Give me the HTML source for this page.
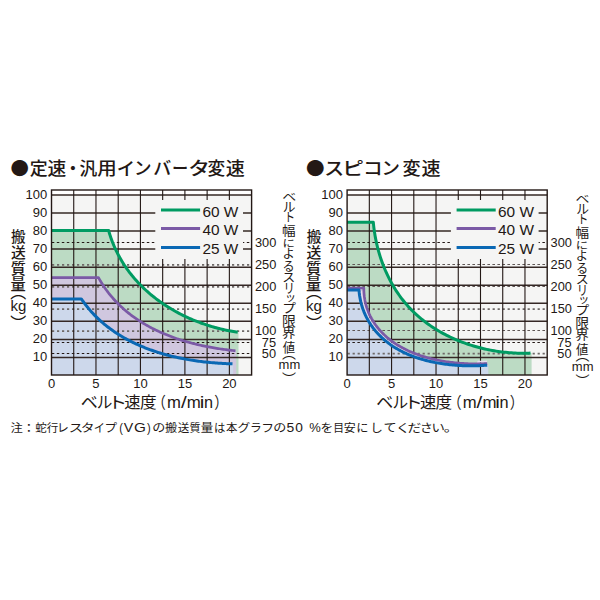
<!DOCTYPE html>
<html><head><meta charset="utf-8"><title>chart</title>
<style>
html,body{margin:0;padding:0;background:#fff;}
body{width:600px;height:600px;overflow:hidden;position:relative;}
svg{position:absolute;left:0;top:0;}
text{font-family:'Liberation Sans','Noto Sans CJK JP',sans-serif;fill:#231815;}
</style></head><body>
<svg width="600" height="600" viewBox="0 0 600 600">
<rect x="0" y="0" width="600" height="600" fill="#fff"/>
<text x="-9.00" y="0" font-size="18.0" font-weight="500" style="font-family:'Noto Sans CJK JP',sans-serif" transform="translate(19.80,175.4) scale(1.022,1)">●</text>
<text x="-8.88" y="0" font-size="18.0" font-weight="500" transform="translate(38.55,175.4) scale(0.997,1)">定</text>
<text x="-9.00" y="0" font-size="18.0" font-weight="500" transform="translate(56.75,175.4) scale(1.041,1)">速</text>
<text x="-9.00" y="0" font-size="18.0" font-weight="500" transform="translate(72.90,175.4) scale(0.988,1)">・</text>
<text x="-9.12" y="0" font-size="18.0" font-weight="500" transform="translate(88.55,175.4) scale(0.982,1)">汎</text>
<text x="-8.31" y="0" font-size="18.0" font-weight="500" transform="translate(106.35,175.4) scale(1.082,1)">用</text>
<text x="-8.56" y="0" font-size="18.0" font-weight="500" transform="translate(125.50,175.4) scale(1.016,1)">イ</text>
<text x="-9.56" y="0" font-size="18.0" font-weight="500" transform="translate(143.30,175.4) scale(0.974,1)">ン</text>
<text x="-9.19" y="0" font-size="18.0" font-weight="500" transform="translate(162.50,175.4) scale(1.002,1)">バ</text>
<text x="-9.00" y="0" font-size="18.0" font-weight="500" transform="translate(180.15,175.4) scale(0.903,1)">ー</text>
<text x="-8.69" y="0" font-size="18.0" font-weight="500" transform="translate(198.65,175.4) scale(1.203,1)">タ</text>
<text x="-9.06" y="0" font-size="18.0" font-weight="500" transform="translate(216.45,175.4) scale(0.980,1)">変</text>
<text x="-9.00" y="0" font-size="18.0" font-weight="500" transform="translate(235.22,175.4) scale(1.056,1)">速</text>
<text x="-9.00" y="0" font-size="18.0" font-weight="500" style="font-family:'Noto Sans CJK JP',sans-serif" transform="translate(315.38,175.4) scale(1.031,1)">●</text>
<text x="-9.00" y="0" font-size="18.0" font-weight="500" transform="translate(334.15,175.4) scale(1.105,1)">ス</text>
<text x="-10.06" y="0" font-size="18.0" font-weight="500" transform="translate(354.35,175.4) scale(1.204,1)">ピ</text>
<text x="-9.12" y="0" font-size="18.0" font-weight="500" transform="translate(373.00,175.4) scale(1.098,1)">コ</text>
<text x="-9.56" y="0" font-size="18.0" font-weight="500" transform="translate(391.35,175.4) scale(1.023,1)">ン</text>
<text x="-9.06" y="0" font-size="18.0" font-weight="500" transform="translate(411.65,175.4) scale(1.005,1)">変</text>
<text x="-9.00" y="0" font-size="18.0" font-weight="500" transform="translate(431.00,175.4) scale(1.059,1)">速</text>
<rect x="51.5" y="194.9" width="200.1" height="180.1" fill="#f5f5f4"/>
<polygon points="51.50,375.00 51.50,230.50 108.71,230.50 109.12,232.25 109.56,233.69 110.01,235.13 110.47,236.56 110.96,237.98 111.45,239.39 111.97,240.78 112.50,242.17 113.05,243.55 113.61,244.92 114.18,246.28 114.78,247.63 115.38,248.97 116.01,250.30 116.64,251.62 117.30,252.93 117.96,254.23 118.64,255.52 119.34,256.80 120.05,258.07 120.77,259.33 121.51,260.58 122.26,261.82 123.03,263.05 123.81,264.27 124.60,265.48 125.40,266.68 126.22,267.87 127.05,269.05 127.90,270.22 128.75,271.38 129.62,272.53 130.50,273.67 131.40,274.80 132.30,275.91 133.22,277.02 134.15,278.12 135.09,279.21 136.05,280.29 137.01,281.36 137.99,282.41 138.98,283.46 139.97,284.50 140.98,285.53 142.00,286.54 143.03,287.55 144.08,288.54 145.13,289.53 146.19,290.51 147.26,291.47 148.34,292.43 149.43,293.37 150.53,294.30 151.64,295.23 152.76,296.14 153.89,297.04 155.03,297.93 156.18,298.82 157.34,299.69 158.50,300.55 159.67,301.40 160.86,302.24 162.05,303.07 163.24,303.89 164.45,304.69 165.67,305.49 166.89,306.28 168.12,307.05 169.35,307.82 170.60,308.57 171.85,309.32 173.11,310.05 174.37,310.77 175.65,311.49 176.93,312.19 178.21,312.88 179.50,313.56 180.80,314.23 182.11,314.89 183.42,315.54 184.73,316.17 186.05,316.80 187.38,317.41 188.71,318.02 190.05,318.61 191.40,319.20 192.74,319.77 194.10,320.33 195.46,320.88 196.82,321.42 198.18,321.95 199.56,322.46 200.93,322.97 202.31,323.47 203.69,323.95 205.08,324.43 206.47,324.89 207.87,325.34 209.26,325.78 210.67,326.21 212.07,326.63 213.48,327.04 214.89,327.43 216.30,327.82 217.71,328.19 219.13,328.56 220.55,328.91 221.97,329.25 223.40,329.58 224.82,329.90 226.25,330.20 227.68,330.50 229.11,330.79 230.54,331.06 231.97,331.32 233.41,331.57 234.84,331.81 236.28,332.04 237.71,332.26 238.50,332.26 238.50,375.00" fill="#bcdbc4"/>
<polygon points="51.50,375.00 51.50,277.60 98.50,277.60 99.19,278.83 99.89,280.06 100.60,281.28 101.33,282.48 102.07,283.67 102.81,284.84 103.58,286.01 104.35,287.16 105.13,288.30 105.93,289.42 106.74,290.54 107.56,291.64 108.39,292.73 109.23,293.80 110.09,294.87 110.95,295.92 111.82,296.96 112.71,297.99 113.61,299.00 114.51,300.00 115.43,301.00 116.36,301.98 117.29,302.94 118.24,303.90 119.20,304.85 120.17,305.78 121.14,306.70 122.13,307.61 123.12,308.51 124.13,309.40 125.14,310.27 126.16,311.14 127.19,311.99 128.23,312.83 129.28,313.67 130.34,314.49 131.41,315.30 132.48,316.10 133.56,316.88 134.65,317.66 135.75,318.43 136.85,319.19 137.97,319.93 139.09,320.67 140.22,321.39 141.35,322.11 142.49,322.81 143.64,323.51 144.80,324.19 145.96,324.87 147.13,325.53 148.31,326.19 149.49,326.83 150.68,327.46 151.87,328.09 153.07,328.71 154.28,329.31 155.49,329.91 156.71,330.49 157.93,331.07 159.16,331.64 160.40,332.20 161.64,332.75 162.88,333.29 164.13,333.82 165.39,334.34 166.65,334.86 167.91,335.36 169.18,335.86 170.45,336.34 171.73,336.82 173.01,337.29 174.29,337.75 175.58,338.20 176.87,338.65 178.17,339.08 179.47,339.51 180.77,339.93 182.07,340.34 183.38,340.74 184.69,341.14 186.01,341.52 187.32,341.90 188.64,342.27 189.97,342.63 191.29,342.99 192.62,343.34 193.95,343.68 195.28,344.01 196.61,344.33 197.94,344.65 199.28,344.96 200.62,345.26 201.96,345.56 203.30,345.85 204.64,346.13 205.98,346.40 207.32,346.67 208.66,346.93 210.01,347.18 211.35,347.43 212.70,347.67 214.04,347.90 215.39,348.13 216.74,348.35 218.08,348.56 219.43,348.77 220.77,348.97 222.11,349.16 223.46,349.35 224.80,349.53 226.14,349.71 227.48,349.88 228.82,350.04 230.16,350.20 231.50,350.35 232.84,350.50 234.17,350.64 235.50,350.77 236.20,350.77 236.20,375.00" fill="#d0c7df"/>
<polygon points="51.50,375.00 51.50,298.90 81.30,298.90 82.13,300.02 82.97,301.22 83.82,302.41 84.69,303.59 85.57,304.75 86.46,305.90 87.36,307.04 88.28,308.16 89.21,309.26 90.15,310.36 91.10,311.44 92.06,312.51 93.03,313.56 94.02,314.60 95.02,315.63 96.02,316.64 97.04,317.64 98.07,318.63 99.11,319.61 100.16,320.57 101.22,321.52 102.29,322.46 103.37,323.38 104.46,324.29 105.56,325.19 106.66,326.08 107.78,326.95 108.91,327.81 110.05,328.66 111.19,329.50 112.35,330.33 113.51,331.14 114.68,331.94 115.86,332.73 117.05,333.51 118.25,334.27 119.45,335.03 120.67,335.77 121.89,336.50 123.12,337.22 124.35,337.93 125.59,338.63 126.84,339.31 128.10,339.99 129.37,340.65 130.64,341.30 131.91,341.94 133.20,342.57 134.49,343.19 135.79,343.80 137.09,344.40 138.40,344.99 139.71,345.56 141.03,346.13 142.36,346.69 143.69,347.23 145.03,347.77 146.37,348.29 147.72,348.81 149.07,349.31 150.42,349.81 151.79,350.29 153.15,350.77 154.52,351.23 155.90,351.69 157.27,352.13 158.66,352.57 160.04,353.00 161.43,353.41 162.82,353.82 164.22,354.22 165.62,354.61 167.02,354.99 168.43,355.36 169.84,355.72 171.25,356.08 172.66,356.42 174.08,356.76 175.49,357.08 176.91,357.40 178.34,357.71 179.76,358.01 181.19,358.31 182.61,358.59 184.04,358.87 185.47,359.13 186.90,359.39 188.34,359.64 189.77,359.89 191.20,360.12 192.64,360.35 194.07,360.57 195.51,360.78 196.94,360.99 198.38,361.18 199.81,361.37 201.25,361.55 202.69,361.73 204.12,361.90 205.55,362.06 206.99,362.21 208.42,362.35 209.85,362.49 211.28,362.62 212.71,362.75 214.13,362.86 215.56,362.98 216.98,363.08 218.41,363.18 219.83,363.27 221.24,363.35 222.66,363.43 224.07,363.50 225.48,363.57 226.89,363.63 228.29,363.68 229.70,363.73 231.09,363.77 232.49,363.80 233.20,363.80 233.20,375.00" fill="#cdd8eb"/>
<line x1="51.5" y1="242.5" x2="251.6" y2="242.5" stroke="#231815" stroke-width="1" stroke-dasharray="2.5 2.5" stroke-dashoffset="-0.3"/>
<line x1="51.5" y1="264.9" x2="251.6" y2="264.9" stroke="#6f6a68" stroke-width="1.8" stroke-dasharray="2.2 2.8" stroke-dashoffset="-0.5"/>
<line x1="51.5" y1="286.9" x2="251.6" y2="286.9" stroke="#6f6a68" stroke-width="1.8" stroke-dasharray="2.2 2.8" stroke-dashoffset="-0.5"/>
<line x1="51.5" y1="309.2" x2="251.6" y2="309.2" stroke="#6f6a68" stroke-width="1.8" stroke-dasharray="2.2 2.8" stroke-dashoffset="-0.5"/>
<line x1="51.5" y1="331.1" x2="251.6" y2="331.1" stroke="#6f6a68" stroke-width="1.8" stroke-dasharray="2.2 2.8" stroke-dashoffset="-0.5"/>
<line x1="51.5" y1="342.5" x2="251.6" y2="342.5" stroke="#231815" stroke-width="1" stroke-dasharray="2.5 2.5" stroke-dashoffset="-0.3"/>
<line x1="51.5" y1="353.5" x2="251.6" y2="353.5" stroke="#231815" stroke-width="1" stroke-dasharray="2.5 2.5" stroke-dashoffset="-0.3"/>
<line x1="51.5" y1="357.44" x2="251.6" y2="357.44" stroke="#352825" stroke-width="1.5"/>
<line x1="51.5" y1="339.38" x2="251.6" y2="339.38" stroke="#352825" stroke-width="1.5"/>
<line x1="51.5" y1="321.32" x2="251.6" y2="321.32" stroke="#352825" stroke-width="1.5"/>
<line x1="51.5" y1="303.26" x2="251.6" y2="303.26" stroke="#352825" stroke-width="1.5"/>
<line x1="51.5" y1="285.20" x2="251.6" y2="285.20" stroke="#352825" stroke-width="1.5"/>
<line x1="51.5" y1="267.14" x2="251.6" y2="267.14" stroke="#352825" stroke-width="1.5"/>
<line x1="51.5" y1="249.08" x2="251.6" y2="249.08" stroke="#352825" stroke-width="1.5"/>
<line x1="51.5" y1="231.02" x2="251.6" y2="231.02" stroke="#352825" stroke-width="1.5"/>
<line x1="51.5" y1="212.96" x2="251.6" y2="212.96" stroke="#352825" stroke-width="1.5"/>
<line x1="51.5" y1="194.90" x2="251.6" y2="194.90" stroke="#352825" stroke-width="1.5"/>
<line x1="73.73" y1="190.0" x2="73.73" y2="375.0" stroke="#231815" stroke-width="1.1"/>
<line x1="95.97" y1="190.0" x2="95.97" y2="375.0" stroke="#231815" stroke-width="1.1"/>
<line x1="118.20" y1="190.0" x2="118.20" y2="375.0" stroke="#231815" stroke-width="1.1"/>
<line x1="140.43" y1="190.0" x2="140.43" y2="375.0" stroke="#231815" stroke-width="1.1"/>
<line x1="162.67" y1="190.0" x2="162.67" y2="375.0" stroke="#231815" stroke-width="1.1"/>
<line x1="184.90" y1="190.0" x2="184.90" y2="375.0" stroke="#231815" stroke-width="1.1"/>
<line x1="207.13" y1="190.0" x2="207.13" y2="375.0" stroke="#231815" stroke-width="1.1"/>
<line x1="229.37" y1="190.0" x2="229.37" y2="375.0" stroke="#231815" stroke-width="1.1"/>
<rect x="155.3" y="200" width="87.7" height="59" fill="#f5f5f4"/>
<polyline points="51.50,230.50 108.71,230.50 109.12,232.25 109.56,233.69 110.01,235.13 110.47,236.56 110.96,237.98 111.45,239.39 111.97,240.78 112.50,242.17 113.05,243.55 113.61,244.92 114.18,246.28 114.78,247.63 115.38,248.97 116.01,250.30 116.64,251.62 117.30,252.93 117.96,254.23 118.64,255.52 119.34,256.80 120.05,258.07 120.77,259.33 121.51,260.58 122.26,261.82 123.03,263.05 123.81,264.27 124.60,265.48 125.40,266.68 126.22,267.87 127.05,269.05 127.90,270.22 128.75,271.38 129.62,272.53 130.50,273.67 131.40,274.80 132.30,275.91 133.22,277.02 134.15,278.12 135.09,279.21 136.05,280.29 137.01,281.36 137.99,282.41 138.98,283.46 139.97,284.50 140.98,285.53 142.00,286.54 143.03,287.55 144.08,288.54 145.13,289.53 146.19,290.51 147.26,291.47 148.34,292.43 149.43,293.37 150.53,294.30 151.64,295.23 152.76,296.14 153.89,297.04 155.03,297.93 156.18,298.82 157.34,299.69 158.50,300.55 159.67,301.40 160.86,302.24 162.05,303.07 163.24,303.89 164.45,304.69 165.67,305.49 166.89,306.28 168.12,307.05 169.35,307.82 170.60,308.57 171.85,309.32 173.11,310.05 174.37,310.77 175.65,311.49 176.93,312.19 178.21,312.88 179.50,313.56 180.80,314.23 182.11,314.89 183.42,315.54 184.73,316.17 186.05,316.80 187.38,317.41 188.71,318.02 190.05,318.61 191.40,319.20 192.74,319.77 194.10,320.33 195.46,320.88 196.82,321.42 198.18,321.95 199.56,322.46 200.93,322.97 202.31,323.47 203.69,323.95 205.08,324.43 206.47,324.89 207.87,325.34 209.26,325.78 210.67,326.21 212.07,326.63 213.48,327.04 214.89,327.43 216.30,327.82 217.71,328.19 219.13,328.56 220.55,328.91 221.97,329.25 223.40,329.58 224.82,329.90 226.25,330.20 227.68,330.50 229.11,330.79 230.54,331.06 231.97,331.32 233.41,331.57 234.84,331.81 236.28,332.04 237.71,332.26" fill="none" stroke="#009b62" stroke-width="3" stroke-linejoin="round"/>
<polyline points="51.50,277.60 98.50,277.60 99.19,278.83 99.89,280.06 100.60,281.28 101.33,282.48 102.07,283.67 102.81,284.84 103.58,286.01 104.35,287.16 105.13,288.30 105.93,289.42 106.74,290.54 107.56,291.64 108.39,292.73 109.23,293.80 110.09,294.87 110.95,295.92 111.82,296.96 112.71,297.99 113.61,299.00 114.51,300.00 115.43,301.00 116.36,301.98 117.29,302.94 118.24,303.90 119.20,304.85 120.17,305.78 121.14,306.70 122.13,307.61 123.12,308.51 124.13,309.40 125.14,310.27 126.16,311.14 127.19,311.99 128.23,312.83 129.28,313.67 130.34,314.49 131.41,315.30 132.48,316.10 133.56,316.88 134.65,317.66 135.75,318.43 136.85,319.19 137.97,319.93 139.09,320.67 140.22,321.39 141.35,322.11 142.49,322.81 143.64,323.51 144.80,324.19 145.96,324.87 147.13,325.53 148.31,326.19 149.49,326.83 150.68,327.46 151.87,328.09 153.07,328.71 154.28,329.31 155.49,329.91 156.71,330.49 157.93,331.07 159.16,331.64 160.40,332.20 161.64,332.75 162.88,333.29 164.13,333.82 165.39,334.34 166.65,334.86 167.91,335.36 169.18,335.86 170.45,336.34 171.73,336.82 173.01,337.29 174.29,337.75 175.58,338.20 176.87,338.65 178.17,339.08 179.47,339.51 180.77,339.93 182.07,340.34 183.38,340.74 184.69,341.14 186.01,341.52 187.32,341.90 188.64,342.27 189.97,342.63 191.29,342.99 192.62,343.34 193.95,343.68 195.28,344.01 196.61,344.33 197.94,344.65 199.28,344.96 200.62,345.26 201.96,345.56 203.30,345.85 204.64,346.13 205.98,346.40 207.32,346.67 208.66,346.93 210.01,347.18 211.35,347.43 212.70,347.67 214.04,347.90 215.39,348.13 216.74,348.35 218.08,348.56 219.43,348.77 220.77,348.97 222.11,349.16 223.46,349.35 224.80,349.53 226.14,349.71 227.48,349.88 228.82,350.04 230.16,350.20 231.50,350.35 232.84,350.50 234.17,350.64 235.50,350.77" fill="none" stroke="#7b5aa6" stroke-width="2.7" stroke-linejoin="round"/>
<polyline points="51.50,298.90 81.30,298.90 82.13,300.02 82.97,301.22 83.82,302.41 84.69,303.59 85.57,304.75 86.46,305.90 87.36,307.04 88.28,308.16 89.21,309.26 90.15,310.36 91.10,311.44 92.06,312.51 93.03,313.56 94.02,314.60 95.02,315.63 96.02,316.64 97.04,317.64 98.07,318.63 99.11,319.61 100.16,320.57 101.22,321.52 102.29,322.46 103.37,323.38 104.46,324.29 105.56,325.19 106.66,326.08 107.78,326.95 108.91,327.81 110.05,328.66 111.19,329.50 112.35,330.33 113.51,331.14 114.68,331.94 115.86,332.73 117.05,333.51 118.25,334.27 119.45,335.03 120.67,335.77 121.89,336.50 123.12,337.22 124.35,337.93 125.59,338.63 126.84,339.31 128.10,339.99 129.37,340.65 130.64,341.30 131.91,341.94 133.20,342.57 134.49,343.19 135.79,343.80 137.09,344.40 138.40,344.99 139.71,345.56 141.03,346.13 142.36,346.69 143.69,347.23 145.03,347.77 146.37,348.29 147.72,348.81 149.07,349.31 150.42,349.81 151.79,350.29 153.15,350.77 154.52,351.23 155.90,351.69 157.27,352.13 158.66,352.57 160.04,353.00 161.43,353.41 162.82,353.82 164.22,354.22 165.62,354.61 167.02,354.99 168.43,355.36 169.84,355.72 171.25,356.08 172.66,356.42 174.08,356.76 175.49,357.08 176.91,357.40 178.34,357.71 179.76,358.01 181.19,358.31 182.61,358.59 184.04,358.87 185.47,359.13 186.90,359.39 188.34,359.64 189.77,359.89 191.20,360.12 192.64,360.35 194.07,360.57 195.51,360.78 196.94,360.99 198.38,361.18 199.81,361.37 201.25,361.55 202.69,361.73 204.12,361.90 205.55,362.06 206.99,362.21 208.42,362.35 209.85,362.49 211.28,362.62 212.71,362.75 214.13,362.86 215.56,362.98 216.98,363.08 218.41,363.18 219.83,363.27 221.24,363.35 222.66,363.43 224.07,363.50 225.48,363.57 226.89,363.63 228.29,363.68 229.70,363.73 231.09,363.77 232.49,363.80" fill="none" stroke="#0a68b4" stroke-width="3" stroke-linejoin="round"/>
<rect x="51.5" y="190.0" width="200.1" height="185.0" fill="none" stroke="#231815" stroke-width="1.4"/>
<line x1="161" y1="209.9" x2="200.1" y2="209.9" stroke="#009b62" stroke-width="3"/>
<text x="202.4" y="217.0" font-size="15.4">60 W</text>
<line x1="161" y1="228.4" x2="200.1" y2="228.4" stroke="#7b5aa6" stroke-width="3"/>
<text x="202.4" y="235.2" font-size="15.4">40 W</text>
<line x1="161" y1="247.4" x2="200.1" y2="247.4" stroke="#0a68b4" stroke-width="3"/>
<text x="202.4" y="254.2" font-size="15.4">25 W</text>
<text x="47.3" y="361.34" font-size="13" text-anchor="end">10</text>
<text x="47.3" y="343.28" font-size="13" text-anchor="end">20</text>
<text x="47.3" y="325.22" font-size="13" text-anchor="end">30</text>
<text x="47.3" y="307.16" font-size="13" text-anchor="end">40</text>
<text x="47.3" y="289.10" font-size="13" text-anchor="end">50</text>
<text x="47.3" y="271.04" font-size="13" text-anchor="end">60</text>
<text x="47.3" y="252.98" font-size="13" text-anchor="end">70</text>
<text x="47.3" y="234.92" font-size="13" text-anchor="end">80</text>
<text x="47.3" y="216.86" font-size="13" text-anchor="end">90</text>
<text x="47.3" y="198.80" font-size="13" text-anchor="end">100</text>
<text x="51.50" y="388" font-size="13" text-anchor="middle">0</text>
<text x="95.97" y="388" font-size="13" text-anchor="middle">5</text>
<text x="140.43" y="388" font-size="13" text-anchor="middle">10</text>
<text x="184.90" y="388" font-size="13" text-anchor="middle">15</text>
<text x="229.37" y="388" font-size="13" text-anchor="middle">20</text>
<text x="255.0" y="246.80" font-size="12.8">300</text>
<text x="255.0" y="268.90" font-size="12.8">250</text>
<text x="255.0" y="290.90" font-size="12.8">200</text>
<text x="255.0" y="313.20" font-size="12.8">150</text>
<text x="255.0" y="335.10" font-size="12.8">100</text>
<text x="276.0" y="346.70" font-size="12.8" text-anchor="end">75</text>
<text x="276.0" y="357.70" font-size="12.8" text-anchor="end">50</text>
<text x="-7.94" y="0" font-size="16" transform="translate(89.20,407.6) scale(1.062,1)">ベ</text>
<text x="-8.19" y="0" font-size="16" transform="translate(104.80,407.6) scale(0.977,1)">ル</text>
<text x="-9.38" y="0" font-size="16" transform="translate(119.20,407.6) scale(1.212,1)">ト</text>
<text x="-8.00" y="0" font-size="16" transform="translate(132.50,407.6) scale(1.017,1)">速</text>
<text x="-7.94" y="0" font-size="16" transform="translate(148.25,407.6) scale(1.042,1)">度</text>
<text x="-13.19" y="0" font-size="16" style="font-family:'Noto Sans CJK JP',sans-serif" transform="translate(163.50,407.6) scale(0.850,1)">（</text>
<text x="-6.69" y="0" font-size="16" transform="translate(174.00,407.6) scale(1.043,1)">m</text>
<text x="-2.25" y="0" font-size="16" transform="translate(183.90,407.6) scale(1.289,1)">/</text>
<text x="-6.69" y="0" font-size="16" transform="translate(193.85,407.6) scale(1.052,1)">m</text>
<text x="-1.75" y="0" font-size="16" transform="translate(202.00,407.6) scale(1.300,1)">i</text>
<text x="-4.44" y="0" font-size="16" transform="translate(208.50,407.6) scale(1.018,1)">n</text>
<text x="-2.81" y="0" font-size="16" style="font-family:'Noto Sans CJK JP',sans-serif" transform="translate(216.55,407.6) scale(0.850,1)">）</text>
<text x="-7.50" y="5.75" font-size="15" font-weight="500" transform="translate(18.35,236.25) scale(0.975,0.964)">搬</text>
<text x="-7.50" y="5.81" font-size="15" font-weight="500" transform="translate(18.30,252.00) scale(0.986,0.966)">送</text>
<text x="-7.44" y="5.69" font-size="15" font-weight="500" transform="translate(18.15,267.85) scale(1.006,1.012)">質</text>
<text x="-7.50" y="5.69" font-size="15" font-weight="500" transform="translate(18.00,283.85) scale(1.018,1.044)">量</text>
<text x="10.30" y="297.84" font-size="16">︵</text>
<text x="10.30" y="329.01" font-size="16">︶</text>
<text x="18.3" y="311" font-size="15" text-anchor="middle">kg</text>
<text x="-6.44" y="5.00" font-size="13" transform="translate(289.15,196.50) scale(1.081,0.822)">ベ</text>
<text x="-6.62" y="4.81" font-size="13" transform="translate(289.35,206.70) scale(0.983,0.988)">ル</text>
<text x="-7.62" y="4.88" font-size="13" transform="translate(290.50,217.70) scale(0.830,0.952)">ト</text>
<text x="-6.62" y="4.94" font-size="13" transform="translate(289.00,230.00) scale(1.043,0.990)">幅</text>
<text x="-6.69" y="4.75" font-size="13" transform="translate(288.85,242.65) scale(0.958,0.829)">に</text>
<text x="-6.38" y="4.88" font-size="13" transform="translate(288.50,253.85) scale(0.947,0.936)">よ</text>
<text x="-6.31" y="4.69" font-size="13" transform="translate(288.50,266.15) scale(0.935,0.935)">る</text>
<text x="-6.50" y="4.44" font-size="13" transform="translate(288.85,277.50) scale(1.005,0.935)">ス</text>
<text x="-6.50" y="4.69" font-size="13" transform="translate(289.15,288.35) scale(0.869,1.031)">リ</text>
<text x="-6.69" y="3.25" font-size="13" transform="translate(290.65,298.65) scale(0.846,0.859)">ッ</text>
<text x="-7.19" y="5.25" font-size="13" transform="translate(289.85,308.35) scale(1.052,0.951)">プ</text>
<text x="-6.75" y="4.75" font-size="13" transform="translate(289.15,321.00) scale(1.070,1.043)">限</text>
<text x="-6.56" y="4.75" font-size="13" transform="translate(288.85,333.80) scale(1.036,0.936)">界</text>
<text x="-6.38" y="5.06" font-size="13" transform="translate(288.85,346.60) scale(0.955,0.973)">値</text>
<text x="282.10" y="358.31" font-size="14">︵</text>
<text x="282.10" y="384.19" font-size="14">︶</text>
<text x="289.40000000000003" y="369.00" font-size="13" text-anchor="middle">mm</text>
<rect x="347.1" y="194.9" width="200.10000000000002" height="180.1" fill="#f5f5f4"/>
<polygon points="347.10,375.00 347.10,222.30 373.31,222.30 373.50,224.22 373.70,226.14 373.93,228.07 374.19,229.99 374.46,231.90 374.76,233.81 375.08,235.72 375.42,237.63 375.79,239.53 376.18,241.42 376.59,243.31 377.03,245.19 377.48,247.07 377.96,248.94 378.47,250.80 378.99,252.66 379.54,254.51 380.11,256.35 380.70,258.18 381.32,260.00 381.95,261.81 382.62,263.62 383.30,265.41 384.00,267.19 384.73,268.96 385.48,270.72 386.25,272.47 387.05,274.21 387.87,275.93 388.71,277.64 389.57,279.34 390.46,281.02 391.36,282.69 392.29,284.35 393.25,285.99 394.22,287.62 395.22,289.23 396.24,290.82 397.28,292.40 398.34,293.96 399.43,295.50 400.54,297.03 401.67,298.54 402.82,300.03 404.00,301.50 405.20,302.95 406.42,304.39 407.66,305.80 408.92,307.19 410.21,308.56 411.52,309.92 412.85,311.25 414.20,312.56 415.57,313.85 416.96,315.12 418.37,316.37 419.80,317.60 421.25,318.81 422.71,319.99 424.20,321.16 425.70,322.31 427.23,323.43 428.76,324.54 430.32,325.62 431.89,326.69 433.48,327.73 435.08,328.75 436.70,329.75 438.33,330.74 439.98,331.70 441.64,332.64 443.32,333.56 445.01,334.45 446.71,335.33 448.42,336.19 450.15,337.02 451.89,337.84 453.63,338.63 455.40,339.41 457.17,340.16 458.95,340.89 460.74,341.60 462.54,342.29 464.35,342.96 466.17,343.61 468.00,344.23 469.83,344.84 471.67,345.42 473.52,345.99 475.38,346.53 477.24,347.05 479.11,347.55 480.99,348.03 482.87,348.49 484.75,348.93 486.64,349.35 488.54,349.74 490.44,350.12 492.34,350.47 494.24,350.80 496.15,351.12 498.06,351.41 499.97,351.67 501.88,351.92 503.80,352.15 505.71,352.35 507.63,352.54 509.54,352.70 511.46,352.84 513.37,352.96 515.29,353.06 517.20,353.14 519.11,353.20 521.02,353.23 522.92,353.24 524.82,353.24 526.72,353.21 528.62,353.16 530.51,353.08 531.60,353.08 531.60,375.00" fill="#bcdbc4"/>
<polygon points="347.10,375.00 347.10,288.00 363.80,288.00 363.82,289.49 363.86,290.97 363.94,292.43 364.06,293.88 364.20,295.32 364.37,296.74 364.58,298.15 364.81,299.54 365.07,300.92 365.36,302.28 365.68,303.63 366.03,304.96 366.41,306.27 366.81,307.58 367.24,308.86 367.70,310.13 368.18,311.39 368.69,312.63 369.22,313.86 369.78,315.07 370.36,316.26 370.97,317.44 371.60,318.61 372.26,319.76 372.93,320.89 373.63,322.01 374.35,323.11 375.10,324.20 375.86,325.27 376.65,326.33 377.46,327.37 378.28,328.39 379.13,329.40 379.99,330.39 380.88,331.37 381.78,332.33 382.70,333.27 383.64,334.20 384.59,335.11 385.57,336.01 386.56,336.89 387.56,337.76 388.58,338.60 389.62,339.44 390.67,340.25 391.73,341.05 392.81,341.83 393.90,342.60 395.01,343.35 396.13,344.09 397.26,344.81 398.41,345.51 399.57,346.20 400.73,346.87 401.91,347.53 403.11,348.17 404.31,348.80 405.52,349.41 406.75,350.01 407.98,350.60 409.22,351.17 410.48,351.72 411.74,352.26 413.01,352.79 414.29,353.30 415.57,353.80 416.87,354.28 418.17,354.75 419.48,355.21 420.80,355.66 422.12,356.09 423.45,356.50 424.79,356.91 426.13,357.30 427.47,357.68 428.82,358.05 430.18,358.40 431.54,358.74 432.90,359.07 434.27,359.39 435.64,359.69 437.02,359.99 438.40,360.27 439.78,360.54 441.16,360.80 442.54,361.04 443.93,361.28 445.31,361.50 446.70,361.72 448.09,361.92 449.48,362.11 450.86,362.29 452.25,362.46 453.64,362.62 455.03,362.77 456.41,362.91 457.79,363.04 459.18,363.16 460.56,363.27 461.93,363.37 463.31,363.46 464.68,363.54 466.04,363.61 467.41,363.67 468.77,363.73 470.12,363.77 471.47,363.81 472.82,363.83 474.16,363.85 475.49,363.86 476.82,363.86 478.14,363.86 479.45,363.84 480.76,363.82 482.06,363.79 483.36,363.75 484.64,363.70 485.92,363.65 487.19,363.59 488.20,363.59 488.20,375.00" fill="#d0c7df"/>
<polygon points="347.10,375.00 347.10,290.00 359.00,290.00 359.12,291.49 359.27,292.99 359.45,294.46 359.65,295.93 359.89,297.38 360.15,298.81 360.44,300.23 360.75,301.64 361.10,303.03 361.46,304.41 361.86,305.78 362.28,307.13 362.72,308.46 363.19,309.78 363.69,311.09 364.20,312.38 364.75,313.65 365.31,314.91 365.90,316.16 366.51,317.39 367.15,318.60 367.81,319.80 368.48,320.99 369.19,322.16 369.91,323.31 370.65,324.45 371.41,325.57 372.20,326.68 373.00,327.77 373.82,328.84 374.67,329.90 375.53,330.95 376.41,331.97 377.31,332.99 378.22,333.98 379.16,334.96 380.11,335.92 381.08,336.87 382.06,337.80 383.07,338.71 384.08,339.61 385.12,340.49 386.16,341.35 387.23,342.20 388.31,343.03 389.40,343.84 390.51,344.64 391.63,345.41 392.76,346.18 393.91,346.92 395.07,347.65 396.24,348.36 397.42,349.05 398.62,349.73 399.83,350.39 401.05,351.04 402.28,351.67 403.52,352.28 404.77,352.88 406.03,353.46 407.30,354.03 408.58,354.58 409.87,355.12 411.17,355.64 412.47,356.15 413.79,356.64 415.11,357.12 416.44,357.58 417.78,358.03 419.12,358.47 420.47,358.89 421.83,359.29 423.20,359.68 424.56,360.06 425.94,360.43 427.32,360.78 428.70,361.12 430.09,361.45 431.49,361.76 432.88,362.06 434.29,362.35 435.69,362.62 437.10,362.88 438.51,363.13 439.92,363.37 441.33,363.59 442.75,363.81 444.17,364.01 445.59,364.20 447.01,364.38 448.43,364.55 449.85,364.70 451.27,364.85 452.69,364.98 454.11,365.11 455.53,365.22 456.95,365.32 458.36,365.41 459.78,365.49 461.19,365.57 462.60,365.63 464.00,365.68 465.41,365.72 466.81,365.75 468.20,365.78 469.60,365.79 470.98,365.79 472.37,365.79 473.75,365.78 475.12,365.75 476.49,365.72 477.85,365.68 479.20,365.64 480.55,365.58 481.90,365.52 483.23,365.44 484.56,365.36 485.88,365.28 487.19,365.18 488.20,365.18 488.20,375.00" fill="#cdd8eb"/>
<line x1="347.1" y1="242.5" x2="547.2" y2="242.5" stroke="#231815" stroke-width="1" stroke-dasharray="2.5 2.5" stroke-dashoffset="-0.3"/>
<line x1="347.1" y1="264.5" x2="547.2" y2="264.5" stroke="#5f5755" stroke-width="1.2" stroke-dasharray="2.6 2.4" stroke-dashoffset="-0.3"/>
<line x1="347.1" y1="286.5" x2="547.2" y2="286.5" stroke="#5f5755" stroke-width="1.2" stroke-dasharray="2.6 2.4" stroke-dashoffset="-0.3"/>
<line x1="347.1" y1="309.2" x2="547.2" y2="309.2" stroke="#6f6a68" stroke-width="1.8" stroke-dasharray="2.2 2.8" stroke-dashoffset="-0.5"/>
<line x1="347.1" y1="330.5" x2="547.2" y2="330.5" stroke="#5f5755" stroke-width="1.2" stroke-dasharray="2.6 2.4" stroke-dashoffset="-0.3"/>
<line x1="347.1" y1="342.5" x2="547.2" y2="342.5" stroke="#231815" stroke-width="1" stroke-dasharray="2.5 2.5" stroke-dashoffset="-0.3"/>
<line x1="347.1" y1="353.7" x2="547.2" y2="353.7" stroke="#6f6a68" stroke-width="1.8" stroke-dasharray="2.2 2.8" stroke-dashoffset="-0.5"/>
<line x1="347.1" y1="357.44" x2="547.2" y2="357.44" stroke="#352825" stroke-width="1.5"/>
<line x1="347.1" y1="339.38" x2="547.2" y2="339.38" stroke="#352825" stroke-width="1.5"/>
<line x1="347.1" y1="321.32" x2="547.2" y2="321.32" stroke="#352825" stroke-width="1.5"/>
<line x1="347.1" y1="303.26" x2="547.2" y2="303.26" stroke="#352825" stroke-width="1.5"/>
<line x1="347.1" y1="285.20" x2="547.2" y2="285.20" stroke="#352825" stroke-width="1.5"/>
<line x1="347.1" y1="267.14" x2="547.2" y2="267.14" stroke="#352825" stroke-width="1.5"/>
<line x1="347.1" y1="249.08" x2="547.2" y2="249.08" stroke="#352825" stroke-width="1.5"/>
<line x1="347.1" y1="231.02" x2="547.2" y2="231.02" stroke="#352825" stroke-width="1.5"/>
<line x1="347.1" y1="212.96" x2="547.2" y2="212.96" stroke="#352825" stroke-width="1.5"/>
<line x1="347.1" y1="194.90" x2="547.2" y2="194.90" stroke="#352825" stroke-width="1.5"/>
<line x1="369.33" y1="190.0" x2="369.33" y2="375.0" stroke="#231815" stroke-width="1.1"/>
<line x1="391.57" y1="190.0" x2="391.57" y2="375.0" stroke="#231815" stroke-width="1.1"/>
<line x1="413.80" y1="190.0" x2="413.80" y2="375.0" stroke="#231815" stroke-width="1.1"/>
<line x1="436.03" y1="190.0" x2="436.03" y2="375.0" stroke="#231815" stroke-width="1.1"/>
<line x1="458.27" y1="190.0" x2="458.27" y2="375.0" stroke="#231815" stroke-width="1.1"/>
<line x1="480.50" y1="190.0" x2="480.50" y2="375.0" stroke="#231815" stroke-width="1.1"/>
<line x1="502.73" y1="190.0" x2="502.73" y2="375.0" stroke="#231815" stroke-width="1.1"/>
<line x1="524.97" y1="190.0" x2="524.97" y2="375.0" stroke="#231815" stroke-width="1.1"/>
<rect x="450.90000000000003" y="200" width="87.7" height="59" fill="#f5f5f4"/>
<polyline points="361.66,291.06 361.75,292.58 361.87,294.08 362.01,295.56 362.19,297.03 362.41,298.49 362.64,299.92 362.91,301.35 363.21,302.76 363.55,304.16 363.91,305.55 364.30,306.90 364.71,308.25 365.16,309.58 365.64,310.90 366.13,312.20 366.66,313.48 367.21,314.76 367.79,316.01 368.39,317.25 369.02,318.47 369.68,319.68 370.36,320.87 371.05,322.03 371.78,323.20 372.52,324.34 373.30,325.46 374.08,326.56 374.90,327.66 375.73,328.74 376.58,329.79 377.46,330.83 378.35,331.85 379.26,332.86 380.19,333.85 381.14,334.82 382.11,335.78 383.09,336.71 384.10,337.64 385.11,338.54 386.14,339.44 387.19,340.30 388.26,341.17 389.34,342.00 390.42,342.82 391.53,343.62 392.65,344.41 393.79,345.18 394.93,345.94 396.10,346.68 397.28,347.40 398.46,348.10 399.64,348.78 400.86,349.46 402.08,350.11 403.30,350.76 404.54,351.38 405.79,351.99 407.04,352.59 408.32,353.18 409.61,353.74 410.88,354.29 412.18,354.83 413.48,355.35 414.79,355.86 416.11,356.35 417.43,356.82 418.76,357.29 420.10,357.75 421.46,358.19 422.80,358.60 424.16,359.02 425.52,359.41 426.88,359.80 428.26,360.18 429.64,360.53 431.01,360.88 432.39,361.21 433.78,361.54 435.17,361.84 436.57,362.14 437.97,362.43 439.37,362.70 440.77,362.96 442.16,363.21 443.57,363.45 444.96,363.67 446.37,363.90 447.78,364.10 449.19,364.29 450.58,364.47 451.99,364.64 453.40,364.81 454.80,364.96 456.20,365.10 457.59,365.23 459.00,365.35 460.39,365.46 461.78,365.56 463.17,365.66 464.56,365.74 465.94,365.81 467.31,365.87 468.69,365.93 470.05,365.97 471.42,366.01 472.79,366.03 474.14,366.05 475.48,366.06 476.82,366.06 478.12,361.66 479.42,361.64 480.72,361.62 482.00,361.59 483.28,361.55 484.55,361.50 485.83,361.45 487.09,361.39" fill="none" stroke="#e6dbee" stroke-width="1.6" stroke-linejoin="round"/>
<polyline points="347.10,222.30 373.31,222.30 373.50,224.22 373.70,226.14 373.93,228.07 374.19,229.99 374.46,231.90 374.76,233.81 375.08,235.72 375.42,237.63 375.79,239.53 376.18,241.42 376.59,243.31 377.03,245.19 377.48,247.07 377.96,248.94 378.47,250.80 378.99,252.66 379.54,254.51 380.11,256.35 380.70,258.18 381.32,260.00 381.95,261.81 382.62,263.62 383.30,265.41 384.00,267.19 384.73,268.96 385.48,270.72 386.25,272.47 387.05,274.21 387.87,275.93 388.71,277.64 389.57,279.34 390.46,281.02 391.36,282.69 392.29,284.35 393.25,285.99 394.22,287.62 395.22,289.23 396.24,290.82 397.28,292.40 398.34,293.96 399.43,295.50 400.54,297.03 401.67,298.54 402.82,300.03 404.00,301.50 405.20,302.95 406.42,304.39 407.66,305.80 408.92,307.19 410.21,308.56 411.52,309.92 412.85,311.25 414.20,312.56 415.57,313.85 416.96,315.12 418.37,316.37 419.80,317.60 421.25,318.81 422.71,319.99 424.20,321.16 425.70,322.31 427.23,323.43 428.76,324.54 430.32,325.62 431.89,326.69 433.48,327.73 435.08,328.75 436.70,329.75 438.33,330.74 439.98,331.70 441.64,332.64 443.32,333.56 445.01,334.45 446.71,335.33 448.42,336.19 450.15,337.02 451.89,337.84 453.63,338.63 455.40,339.41 457.17,340.16 458.95,340.89 460.74,341.60 462.54,342.29 464.35,342.96 466.17,343.61 468.00,344.23 469.83,344.84 471.67,345.42 473.52,345.99 475.38,346.53 477.24,347.05 479.11,347.55 480.99,348.03 482.87,348.49 484.75,348.93 486.64,349.35 488.54,349.74 490.44,350.12 492.34,350.47 494.24,350.80 496.15,351.12 498.06,351.41 499.97,351.67 501.88,351.92 503.80,352.15 505.71,352.35 507.63,352.54 509.54,352.70 511.46,352.84 513.37,352.96 515.29,353.06 517.20,353.14 519.11,353.20 521.02,353.23 522.92,353.24 524.82,353.24 526.72,353.21 528.62,353.16 530.51,353.08" fill="none" stroke="#009b62" stroke-width="3" stroke-linejoin="round"/>
<polyline points="347.10,288.00 363.80,288.00 363.82,289.49 363.86,290.97 363.94,292.43 364.06,293.88 364.20,295.32 364.37,296.74 364.58,298.15 364.81,299.54 365.07,300.92 365.36,302.28 365.68,303.63 366.03,304.96 366.41,306.27 366.81,307.58 367.24,308.86 367.70,310.13 368.18,311.39 368.69,312.63 369.22,313.86 369.78,315.07 370.36,316.26 370.97,317.44 371.60,318.61 372.26,319.76 372.93,320.89 373.63,322.01 374.35,323.11 375.10,324.20 375.86,325.27 376.65,326.33 377.46,327.37 378.28,328.39 379.13,329.40 379.99,330.39 380.88,331.37 381.78,332.33 382.70,333.27 383.64,334.20 384.59,335.11 385.57,336.01 386.56,336.89 387.56,337.76 388.58,338.60 389.62,339.44 390.67,340.25 391.73,341.05 392.81,341.83 393.90,342.60 395.01,343.35 396.13,344.09 397.26,344.81 398.41,345.51 399.57,346.20 400.73,346.87 401.91,347.53 403.11,348.17 404.31,348.80 405.52,349.41 406.75,350.01 407.98,350.60 409.22,351.17 410.48,351.72 411.74,352.26 413.01,352.79 414.29,353.30 415.57,353.80 416.87,354.28 418.17,354.75 419.48,355.21 420.80,355.66 422.12,356.09 423.45,356.50 424.79,356.91 426.13,357.30 427.47,357.68 428.82,358.05 430.18,358.40 431.54,358.74 432.90,359.07 434.27,359.39 435.64,359.69 437.02,359.99 438.40,360.27 439.78,360.54 441.16,360.80 442.54,361.04 443.93,361.28 445.31,361.50 446.70,361.72 448.09,361.92 449.48,362.11 450.86,362.29 452.25,362.46 453.64,362.62 455.03,362.77 456.41,362.91 457.79,363.04 459.18,363.16 460.56,363.27 461.93,363.37 463.31,363.46 464.68,363.54 466.04,363.61 467.41,363.67 468.77,363.73 470.12,363.77 471.47,363.81 472.82,363.83 474.16,363.85 475.49,363.86 476.82,363.86 478.14,363.86 479.45,363.84 480.76,363.82 482.06,363.79 483.36,363.75 484.64,363.70 485.92,363.65 487.19,363.59" fill="none" stroke="#7b5aa6" stroke-width="2.7" stroke-linejoin="round"/>
<polyline points="347.10,290.00 359.00,290.00 359.12,291.49 359.27,292.99 359.45,294.46 359.65,295.93 359.89,297.38 360.15,298.81 360.44,300.23 360.75,301.64 361.10,303.03 361.46,304.41 361.86,305.78 362.28,307.13 362.72,308.46 363.19,309.78 363.69,311.09 364.20,312.38 364.75,313.65 365.31,314.91 365.90,316.16 366.51,317.39 367.15,318.60 367.81,319.80 368.48,320.99 369.19,322.16 369.91,323.31 370.65,324.45 371.41,325.57 372.20,326.68 373.00,327.77 373.82,328.84 374.67,329.90 375.53,330.95 376.41,331.97 377.31,332.99 378.22,333.98 379.16,334.96 380.11,335.92 381.08,336.87 382.06,337.80 383.07,338.71 384.08,339.61 385.12,340.49 386.16,341.35 387.23,342.20 388.31,343.03 389.40,343.84 390.51,344.64 391.63,345.41 392.76,346.18 393.91,346.92 395.07,347.65 396.24,348.36 397.42,349.05 398.62,349.73 399.83,350.39 401.05,351.04 402.28,351.67 403.52,352.28 404.77,352.88 406.03,353.46 407.30,354.03 408.58,354.58 409.87,355.12 411.17,355.64 412.47,356.15 413.79,356.64 415.11,357.12 416.44,357.58 417.78,358.03 419.12,358.47 420.47,358.89 421.83,359.29 423.20,359.68 424.56,360.06 425.94,360.43 427.32,360.78 428.70,361.12 430.09,361.45 431.49,361.76 432.88,362.06 434.29,362.35 435.69,362.62 437.10,362.88 438.51,363.13 439.92,363.37 441.33,363.59 442.75,363.81 444.17,364.01 445.59,364.20 447.01,364.38 448.43,364.55 449.85,364.70 451.27,364.85 452.69,364.98 454.11,365.11 455.53,365.22 456.95,365.32 458.36,365.41 459.78,365.49 461.19,365.57 462.60,365.63 464.00,365.68 465.41,365.72 466.81,365.75 468.20,365.78 469.60,365.79 470.98,365.79 472.37,365.79 473.75,365.78 475.12,365.75 476.49,365.72 477.85,365.68 479.20,365.64 480.55,365.58 481.90,365.52 483.23,365.44 484.56,365.36 485.88,365.28 487.19,365.18" fill="none" stroke="#0a68b4" stroke-width="3" stroke-linejoin="round"/>
<rect x="347.1" y="190.0" width="200.10000000000002" height="185.0" fill="none" stroke="#231815" stroke-width="1.4"/>
<line x1="456.6" y1="209.9" x2="495.70000000000005" y2="209.9" stroke="#009b62" stroke-width="3"/>
<text x="498.0" y="217.0" font-size="15.4">60 W</text>
<line x1="456.6" y1="228.4" x2="495.70000000000005" y2="228.4" stroke="#7b5aa6" stroke-width="3"/>
<text x="498.0" y="235.2" font-size="15.4">40 W</text>
<line x1="456.6" y1="247.4" x2="495.70000000000005" y2="247.4" stroke="#0a68b4" stroke-width="3"/>
<text x="498.0" y="254.2" font-size="15.4">25 W</text>
<text x="342.90000000000003" y="361.34" font-size="13" text-anchor="end">10</text>
<text x="342.90000000000003" y="343.28" font-size="13" text-anchor="end">20</text>
<text x="342.90000000000003" y="325.22" font-size="13" text-anchor="end">30</text>
<text x="342.90000000000003" y="307.16" font-size="13" text-anchor="end">40</text>
<text x="342.90000000000003" y="289.10" font-size="13" text-anchor="end">50</text>
<text x="342.90000000000003" y="271.04" font-size="13" text-anchor="end">60</text>
<text x="342.90000000000003" y="252.98" font-size="13" text-anchor="end">70</text>
<text x="342.90000000000003" y="234.92" font-size="13" text-anchor="end">80</text>
<text x="342.90000000000003" y="216.86" font-size="13" text-anchor="end">90</text>
<text x="342.90000000000003" y="198.80" font-size="13" text-anchor="end">100</text>
<text x="347.10" y="388" font-size="13" text-anchor="middle">0</text>
<text x="391.57" y="388" font-size="13" text-anchor="middle">5</text>
<text x="436.03" y="388" font-size="13" text-anchor="middle">10</text>
<text x="480.50" y="388" font-size="13" text-anchor="middle">15</text>
<text x="524.97" y="388" font-size="13" text-anchor="middle">20</text>
<text x="550.6" y="246.80" font-size="12.8">300</text>
<text x="550.6" y="268.90" font-size="12.8">250</text>
<text x="550.6" y="290.90" font-size="12.8">200</text>
<text x="550.6" y="313.20" font-size="12.8">150</text>
<text x="550.6" y="335.10" font-size="12.8">100</text>
<text x="571.6" y="346.70" font-size="12.8" text-anchor="end">75</text>
<text x="571.6" y="357.70" font-size="12.8" text-anchor="end">50</text>
<text x="-7.94" y="0" font-size="16" transform="translate(384.80,407.6) scale(1.062,1)">ベ</text>
<text x="-8.19" y="0" font-size="16" transform="translate(400.40,407.6) scale(0.977,1)">ル</text>
<text x="-9.38" y="0" font-size="16" transform="translate(414.80,407.6) scale(1.212,1)">ト</text>
<text x="-8.00" y="0" font-size="16" transform="translate(428.10,407.6) scale(1.017,1)">速</text>
<text x="-7.94" y="0" font-size="16" transform="translate(443.85,407.6) scale(1.042,1)">度</text>
<text x="-13.19" y="0" font-size="16" style="font-family:'Noto Sans CJK JP',sans-serif" transform="translate(459.10,407.6) scale(0.850,1)">（</text>
<text x="-6.69" y="0" font-size="16" transform="translate(469.60,407.6) scale(1.043,1)">m</text>
<text x="-2.25" y="0" font-size="16" transform="translate(479.50,407.6) scale(1.289,1)">/</text>
<text x="-6.69" y="0" font-size="16" transform="translate(489.45,407.6) scale(1.052,1)">m</text>
<text x="-1.75" y="0" font-size="16" transform="translate(497.60,407.6) scale(1.300,1)">i</text>
<text x="-4.44" y="0" font-size="16" transform="translate(504.10,407.6) scale(1.018,1)">n</text>
<text x="-2.81" y="0" font-size="16" style="font-family:'Noto Sans CJK JP',sans-serif" transform="translate(512.15,407.6) scale(0.850,1)">）</text>
<text x="-7.50" y="5.75" font-size="15" font-weight="500" transform="translate(313.95,236.25) scale(0.975,0.964)">搬</text>
<text x="-7.50" y="5.81" font-size="15" font-weight="500" transform="translate(313.90,252.00) scale(0.986,0.966)">送</text>
<text x="-7.44" y="5.69" font-size="15" font-weight="500" transform="translate(313.75,267.85) scale(1.006,1.012)">質</text>
<text x="-7.50" y="5.69" font-size="15" font-weight="500" transform="translate(313.60,283.85) scale(1.018,1.044)">量</text>
<text x="305.90" y="297.84" font-size="16">︵</text>
<text x="305.90" y="329.01" font-size="16">︶</text>
<text x="313.90000000000003" y="311" font-size="15" text-anchor="middle">kg</text>
<text x="-6.44" y="5.00" font-size="13" transform="translate(582.45,198.50) scale(1.081,0.822)">ベ</text>
<text x="-6.62" y="4.81" font-size="13" transform="translate(582.65,208.70) scale(0.983,0.988)">ル</text>
<text x="-7.62" y="4.88" font-size="13" transform="translate(583.80,219.70) scale(0.830,0.952)">ト</text>
<text x="-6.62" y="4.94" font-size="13" transform="translate(582.30,232.00) scale(1.043,0.990)">幅</text>
<text x="-6.69" y="4.75" font-size="13" transform="translate(582.15,244.65) scale(0.958,0.829)">に</text>
<text x="-6.38" y="4.88" font-size="13" transform="translate(581.80,255.85) scale(0.947,0.936)">よ</text>
<text x="-6.31" y="4.69" font-size="13" transform="translate(581.80,268.15) scale(0.935,0.935)">る</text>
<text x="-6.50" y="4.44" font-size="13" transform="translate(582.15,279.50) scale(1.005,0.935)">ス</text>
<text x="-6.50" y="4.69" font-size="13" transform="translate(582.45,290.35) scale(0.869,1.031)">リ</text>
<text x="-6.69" y="3.25" font-size="13" transform="translate(583.95,300.65) scale(0.846,0.859)">ッ</text>
<text x="-7.19" y="5.25" font-size="13" transform="translate(583.15,310.35) scale(1.052,0.951)">プ</text>
<text x="-6.75" y="4.75" font-size="13" transform="translate(582.45,323.00) scale(1.070,1.043)">限</text>
<text x="-6.56" y="4.75" font-size="13" transform="translate(582.15,335.80) scale(1.036,0.936)">界</text>
<text x="-6.38" y="5.06" font-size="13" transform="translate(582.15,348.60) scale(0.955,0.973)">値</text>
<text x="575.40" y="360.31" font-size="14">︵</text>
<text x="575.40" y="386.19" font-size="14">︶</text>
<text x="582.7" y="371.00" font-size="13" text-anchor="middle">mm</text>
<text x="-5.81" y="0" font-size="11.6" transform="translate(16.65,431.6) scale(1.064,1)">注</text>
<text x="-5.75" y="0" font-size="11.6" transform="translate(28.70,431.6) scale(1.143,1)">：</text>
<text x="-5.69" y="0" font-size="11.6" transform="translate(41.00,431.6) scale(0.998,1)">蛇</text>
<text x="-5.75" y="0" font-size="11.6" transform="translate(52.35,431.6) scale(0.995,1)">行</text>
<text x="-6.56" y="0" font-size="11.6" transform="translate(63.70,431.6) scale(1.016,1)">レ</text>
<text x="-5.81" y="0" font-size="11.6" transform="translate(76.00,431.6) scale(1.249,1)">ス</text>
<text x="-5.62" y="0" font-size="11.6" transform="translate(87.35,431.6) scale(1.189,1)">タ</text>
<text x="-5.50" y="0" font-size="11.6" transform="translate(99.00,431.6) scale(0.956,1)">イ</text>
<text x="-6.44" y="0" font-size="11.6" transform="translate(111.35,431.6) scale(1.084,1)">プ</text>
<text x="-2.50" y="0" font-size="13" transform="translate(121.35,431.6) scale(0.850,1)">(</text>
<text x="-4.38" y="0" font-size="13" transform="translate(128.65,431.6) scale(1.094,1)">V</text>
<text x="-4.88" y="0" font-size="13" transform="translate(139.70,431.6) scale(1.176,1)">G</text>
<text x="-1.81" y="0" font-size="13" transform="translate(148.65,431.6) scale(0.850,1)">)</text>
<text x="-5.75" y="0" font-size="11.6" transform="translate(158.65,431.6) scale(1.126,1)">の</text>
<text x="-5.81" y="0" font-size="11.6" transform="translate(171.00,431.6) scale(1.048,1)">搬</text>
<text x="-5.75" y="0" font-size="11.6" transform="translate(183.35,431.6) scale(0.995,1)">送</text>
<text x="-5.75" y="0" font-size="11.6" transform="translate(195.00,431.6) scale(0.952,1)">質</text>
<text x="-5.81" y="0" font-size="11.6" transform="translate(207.00,431.6) scale(1.073,1)">量</text>
<text x="-6.19" y="0" font-size="11.6" transform="translate(220.00,431.6) scale(0.977,1)">は</text>
<text x="-5.81" y="0" font-size="11.6" transform="translate(231.65,431.6) scale(0.984,1)">本</text>
<text x="-5.94" y="0" font-size="11.6" transform="translate(244.00,431.6) scale(1.099,1)">グ</text>
<text x="-5.88" y="0" font-size="11.6" transform="translate(256.00,431.6) scale(1.012,1)">ラ</text>
<text x="-5.81" y="0" font-size="11.6" transform="translate(267.65,431.6) scale(1.110,1)">フ</text>
<text x="-5.75" y="0" font-size="11.6" transform="translate(279.65,431.6) scale(1.126,1)">の</text>
<text x="-3.62" y="0" font-size="13" transform="translate(290.35,431.6) scale(1.072,1)">5</text>
<text x="-3.62" y="0" font-size="13" transform="translate(299.00,431.6) scale(1.056,1)">0</text>
<text x="-5.81" y="0" font-size="13" transform="translate(315.00,431.6) scale(0.998,1)">%</text>
<text x="-5.69" y="0" font-size="11.6" transform="translate(326.70,431.6) scale(1.096,1)">を</text>
<text x="-5.81" y="0" font-size="11.6" transform="translate(338.65,431.6) scale(0.927,1)">目</text>
<text x="-5.81" y="0" font-size="11.6" transform="translate(349.65,431.6) scale(1.031,1)">安</text>
<text x="-5.88" y="0" font-size="11.6" transform="translate(362.45,431.6) scale(1.056,1)">に</text>
<text x="-6.56" y="0" font-size="11.6" transform="translate(377.35,431.6) scale(1.089,1)">し</text>
<text x="-5.62" y="0" font-size="11.6" transform="translate(389.75,431.6) scale(1.135,1)">て</text>
<text x="-5.38" y="0" font-size="11.6" transform="translate(402.45,431.6) scale(1.250,1)">く</text>
<text x="-5.94" y="0" font-size="11.6" transform="translate(414.50,431.6) scale(1.185,1)">だ</text>
<text x="-5.94" y="0" font-size="11.6" transform="translate(426.50,431.6) scale(1.108,1)">さ</text>
<text x="-6.06" y="0" font-size="11.6" transform="translate(438.45,431.6) scale(1.151,1)">い</text>
<text x="-2.25" y="0" font-size="11.6" transform="translate(446.75,431.6) scale(1.286,1)">。</text>
</svg>
</body></html>
